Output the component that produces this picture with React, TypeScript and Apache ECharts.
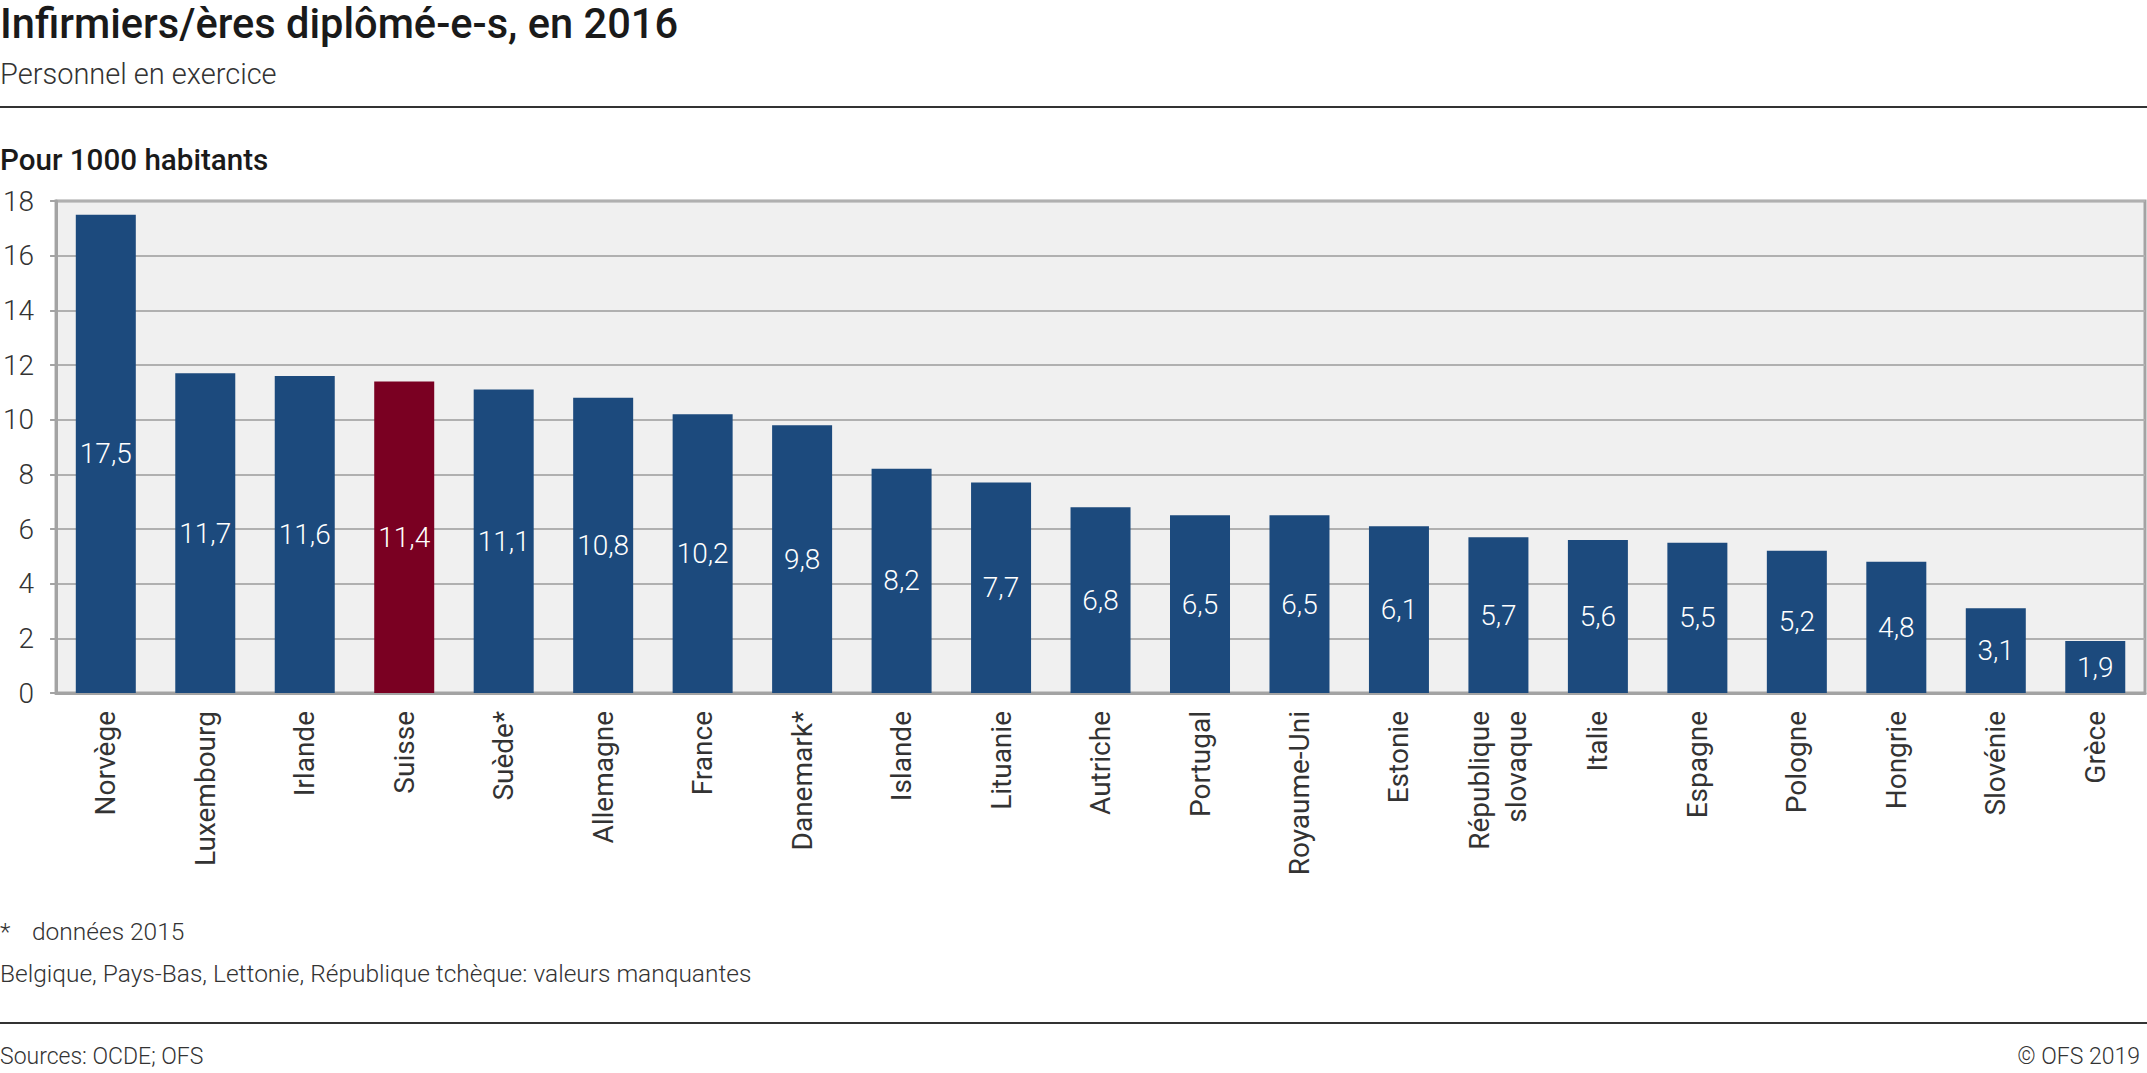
import React, { useEffect, useRef } from "react";
import * as echarts from "echarts";

const categories = [
  "Norvège", "Luxembourg", "Irlande", "Suisse", "Suède*", "Allemagne", "France",
  "Danemark*", "Islande", "Lituanie", "Autriche", "Portugal", "Royaume-Uni", "Estonie",
  "République\nslovaque", "Italie", "Espagne", "Pologne", "Hongrie", "Slovénie", "Grèce",
];
const values = [17.5, 11.7, 11.6, 11.4, 11.1, 10.8, 10.2, 9.8, 8.2, 7.7, 6.8, 6.5, 6.5, 6.1, 5.7, 5.6, 5.5, 5.2, 4.8, 3.1, 1.9];
const highlight = "Suisse";
const yTicks = { min: 0, max: 18, interval: 2 };

const TITLE = "Infirmiers/ères diplômé-e-s, en 2016";
const SUBTITLE = "Personnel en exercice";
const UNIT = "Pour 1000 habitants";
const NOTE1 = "données 2015";
const NOTE2 = "Belgique, Pays-Bas, Lettonie, République tchèque: valeurs manquantes";
const SOURCE = "Sources: OCDE; OFS";
const COPY = "© OFS 2019";

const W = 2147;
const H = 1073;
const FONT = "Roboto, 'Noto Sans', sans-serif";

export default function App() {
  const ref = useRef<HTMLDivElement>(null);
  useEffect(() => {
    document.body.style.margin = "0";
    const chart = echarts.init(ref.current!, undefined, { renderer: "svg" });
    const blue = "#1c4a7d";
    const red = "#7a0022";
    chart.setOption({
      animation: false,
      backgroundColor: "#ffffff",
      textStyle: { fontFamily: FONT },
      grid: {
        left: 55, right: 2, top: 201, bottom: H - 693,
        show: true, backgroundColor: "#f0f0f0", borderColor: "#a3a3a3", borderWidth: 3,
        containLabel: false,
      },
      xAxis: {
        type: "category",
        data: categories,
        axisLine: { show: true, lineStyle: { color: "#a3a3a3", width: 3 } },
        axisTick: { show: false },
        axisLabel: {
          rotate: 90, interval: 0, margin: 18, fontSize: 28, color: "#333",
          fontFamily: FONT, lineHeight: 37,
        },
      },
      yAxis: {
        type: "value",
        min: yTicks.min, max: yTicks.max, interval: yTicks.interval,
        axisLine: { show: true, lineStyle: { color: "#a3a3a3", width: 3 } },
        axisTick: { show: true, length: 6, lineStyle: { color: "#a3a3a3", width: 2 } },
        splitLine: { show: true, lineStyle: { color: "#b0b0b0", width: 2 } },
        axisLabel: { fontSize: 28, color: "#333", margin: 22, fontFamily: FONT, fontWeight: 300 },
      },
      series: [
        {
          type: "bar",
          barWidth: 60,
          data: values.map((v, i) => ({
            value: v,
            itemStyle: { color: categories[i] === highlight ? red : blue },
          })),
          label: {
            show: true, position: "inside", color: "#ffffff", fontSize: 28,
            fontWeight: 300, fontFamily: FONT,
            formatter: (p: any) => String(p.value).replace(".", ","),
          },
        },
      ],
      graphic: [
        { type: "text", left: 0, top: 2, style: { text: TITLE, fontSize: 41.6, fontWeight: 500, fill: "#1a1a1a", fontFamily: FONT } },
        { type: "text", left: 0, top: 59, style: { text: SUBTITLE, fontSize: 29, fontWeight: 300, fill: "#333", fontFamily: FONT } },
        { type: "line", shape: { x1: 0, y1: 107, x2: W, y2: 107 }, style: { stroke: "#333", lineWidth: 2 } },
        { type: "text", left: 0, top: 145, style: { text: UNIT, fontSize: 29.6, fontWeight: 500, fill: "#1a1a1a", fontFamily: FONT } },
        { type: "text", left: 0, top: 919, style: { text: "*", fontSize: 24.5, fontWeight: 300, fill: "#333", fontFamily: FONT } },
        { type: "text", left: 32, top: 919, style: { text: NOTE1, fontSize: 24.5, fontWeight: 300, fill: "#333", fontFamily: FONT } },
        { type: "text", left: 0, top: 961, style: { text: NOTE2, fontSize: 24.5, fontWeight: 300, fill: "#333", fontFamily: FONT } },
        { type: "line", shape: { x1: 0, y1: 1023, x2: W, y2: 1023 }, style: { stroke: "#333", lineWidth: 2 } },
        { type: "text", left: 0, top: 1045, style: { text: SOURCE, fontSize: 23, fontWeight: 300, fill: "#333", fontFamily: FONT } },
        { type: "text", right: 7, top: 1045, style: { text: COPY, fontSize: 23, fontWeight: 300, fill: "#333", fontFamily: FONT } },
      ],
    });
    return () => chart.dispose();
  }, []);
  return <div ref={ref} style={{ width: W, height: H }} />;
}
